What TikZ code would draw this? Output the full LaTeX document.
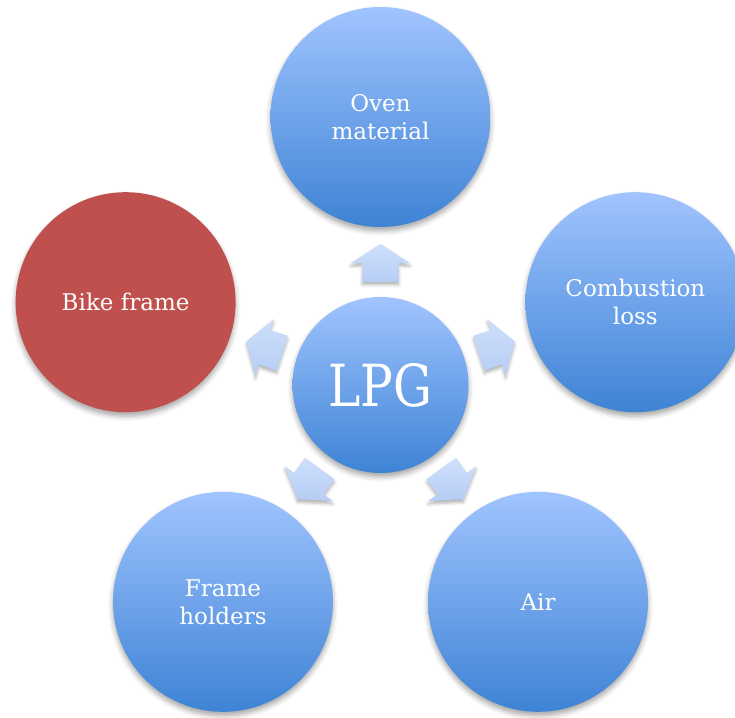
\documentclass[tikz,border=0pt]{standalone}
\usepackage{fontspec}
\usepackage{graphicx}
\setmainfont{DejaVu Serif}
\usetikzlibrary{calc,shapes.arrows,shadows.blur}

\definecolor{bluetop}{RGB}{160,196,255}
\definecolor{bluemid}{RGB}{130,178,243}
\definecolor{bluebot}{RGB}{62,131,213}
\definecolor{accentred}{RGB}{192,80,77}
\definecolor{arrowtop}{RGB}{206,223,251}
\definecolor{arrowbot}{RGB}{182,205,244}

\begin{document}
\begin{tikzpicture}[x=1pt,y=1pt,
  softshadow/.style={blur shadow={shadow xshift=0pt, shadow yshift=-4pt,
      shadow blur radius=5pt, shadow opacity=35}},
  disc/.style={circle, minimum size=220pt, inner sep=0pt, align=center,
      text=white, font=\fontsize{23}{28}\selectfont, softshadow},
  bluedisc/.style={disc, top color=bluetop, middle color=bluemid, bottom color=bluebot},
  reddisc/.style={disc, fill=accentred},
  hub/.style={bluedisc, minimum size=176pt, font=\fontsize{58}{60}\selectfont},
  blockarrow/.style={single arrow, draw=none, inner xsep=0pt, inner ysep=18pt,
      minimum height=38pt,
      single arrow head extend=11.5pt, single arrow tip angle=114,
      top color=arrowtop, bottom color=arrowbot,
      blur shadow={shadow xshift=0pt, shadow yshift=-3pt,
      shadow blur radius=3pt, shadow opacity=30}}
]
\clip (0,0) rectangle (735,717);

% hub in the middle
\coordinate (c) at (380.5,332);
\node[hub] (lpg) at (c) {\scalebox{0.84}[1]{LPG}};

% the five satellites, spaced 72 degrees apart
\node[bluedisc] (oven)  at ($(c)+(90:268)$)   {Oven\\material};
\node[bluedisc] (comb)  at ($(c)+(18:268)$)   {Combustion\\loss};
\node[bluedisc] (air)   at ($(c)+(-54:268)$)  {Air};
\node[bluedisc] (hold)  at ($(c)+(-126:268)$) {Frame\\holders};
\node[reddisc]  (bike)  at ($(c)+(162:268)$)  {Bike frame};

% outward block arrows between hub and satellites
\foreach \ang/\nm in {90/aoven,18/acomb,-54/aair,-126/ahold,162/abike}
  \node[blockarrow, anchor=tail, rotate=\ang] (\nm) at ($(c)+(\ang:103)$) {};
\end{tikzpicture}
\end{document}
